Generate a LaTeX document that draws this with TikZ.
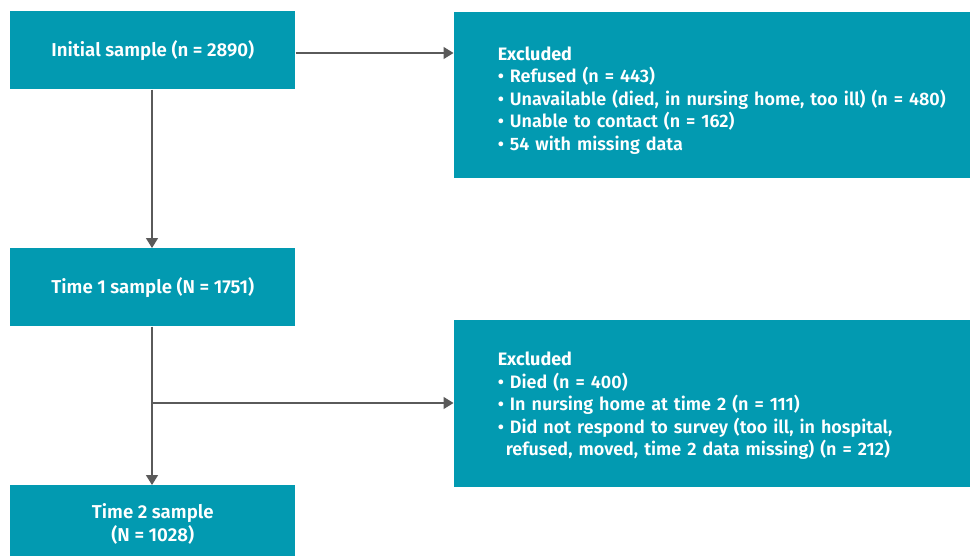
\documentclass[tikz,border=0pt]{standalone}
\usepackage{fontspec}
\setmainfont{Fira Sans}[UprightFont=* SemiBold, BoldFont=* Bold]
\usetikzlibrary{arrows.meta}
\definecolor{teal}{HTML}{029AB1}
\definecolor{arrowgray}{HTML}{5A5A5A}
\tikzset{
  box/.style={fill=teal, text=white, anchor=north west, inner sep=0pt, align=center, font=\fontsize{14}{17.2}\selectfont},
  exbox/.style={fill=teal, text=white, anchor=north west, inner ysep=0pt, inner xsep=33pt, text width=420pt, align=left, font=\fontsize{13.5}{16.9}\selectfont},
  conn/.style={draw=arrowgray, line width=1.1pt, -{Triangle[length=7.5pt,width=9pt]}},
  plain/.style={draw=arrowgray, line width=1.1pt}
}
\begin{document}
\begin{tikzpicture}[x=0.75pt,y=-0.75pt]
\useasboundingbox (0,0) rectangle (970,556);
\node[box, minimum width=213.75pt, minimum height=58.5pt] (init) at (10,11) {Initial sample (n = 2890)};
\node[box, minimum width=213.75pt, minimum height=58.5pt] (t1) at (10,248) {Time 1 sample (N = 1751)};
\node[box, minimum width=213.75pt, minimum height=57.75pt] (t2) at (10,485) {Time 2 sample\\(N = 1028)};
\node[exbox, minimum height=124.5pt] (ex1) at (453.5,12) {\mbox{}\\[1.1pt]\textbf{Excluded}\\
• Refused (n = 443)\\
• Unavailable (died, in nursing home, too ill) (n = 480)\\
• Unable to contact (n = 162)\\
• 54 with missing data};
\node[exbox, minimum height=125pt] (ex2) at (453.5,320) {\mbox{}\\[-3.4pt]\textbf{Excluded}\\
• Died (n = 400)\\
• In nursing home at time 2 (n = 111)\\
• Did not respond to survey (too ill, in hospital,\\
\hspace*{6pt}refused, moved, time 2 data missing) (n = 212)};
\coordinate (branch) at (152,403);
\draw[conn] (init.east |- 0,53) -- (ex1.west |- 0,53);
\draw[conn] (init.south -| 152,0) -- (t1.north -| 152,0);
\draw[plain] (t1.south -| 152,0) -- (branch);
\draw[conn] (branch) -- (t2.north -| 152,0);
\draw[conn] (branch) -- (ex2.west |- branch);
\end{tikzpicture}
\end{document}
